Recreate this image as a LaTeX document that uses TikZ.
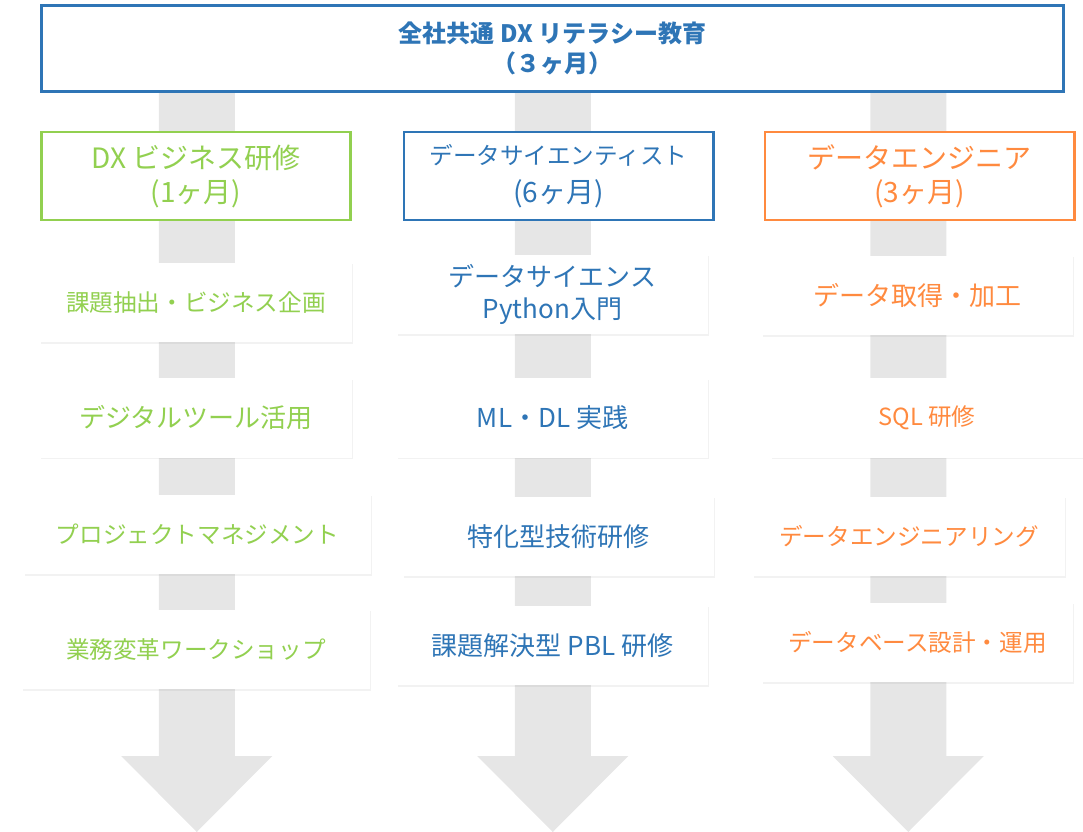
\documentclass[tikz,border=0pt]{standalone}
\usepackage{fontspec}
\setmainfont{Noto Sans CJK JP}
\usetikzlibrary{shadows}
\definecolor{cblue}{HTML}{2E75B6}
\definecolor{cgreen}{HTML}{92D050}
\definecolor{corange}{HTML}{FF8A3F}
\definecolor{cgray}{HTML}{E6E6E6}
\tikzset{
  topbox/.style={draw=cblue, line width=2.2pt, fill=white, align=center, text=cblue,
    font=\fontsize{18pt}{23pt}\selectfont\bfseries, minimum width=767pt, minimum height=65pt, inner sep=0pt},
  headbox/.style={draw=#1, line width=2pt, fill=white, align=center, text=#1,
    minimum width=232pt, minimum height=66pt, inner sep=0pt},
  itembox/.style={fill=white, align=center, text=#1, inner sep=0pt,
    minimum height=59.5pt,
    drop shadow={opacity=0.10, shadow xshift=0.6pt, shadow yshift=-1.2pt}},
  big/.style={font=\fontsize{21pt}{25.5pt}\selectfont},
  mid/.style={font=\fontsize{19.5pt}{24pt}\selectfont},
  small/.style={font=\fontsize{17.7pt}{22pt}\selectfont},
  flow/.style={fill=cgray, draw=none}
}
\begin{document}
\begin{tikzpicture}[x=0.75pt, y=-0.75pt]
\useasboundingbox (0,0) rectangle (1083,832);
% gray flow arrows
\foreach \cx in {196.75, 552.75, 908.25}{
  \fill[cgray] (\cx-38,93) -- (\cx-38,756) -- (\cx-75.5,756) -- (\cx,832)
     -- (\cx+75.5,756) -- (\cx+38,756) -- (\cx+38,93) -- cycle;
}
% top box
\node[topbox] (top) at (552.5,48.5) {全社共通 DX リテラシー教育\\（３ヶ月）};
% column headers
\node[headbox=cgreen, big] (h1) at (196,176) {DX ビジネス研修\\(1ヶ月)};
\node[headbox=cblue, big] (h2) at (558.5,176)
  {{\fontsize{17.7pt}{25.5pt}\selectfont データサイエンティスト}\\[3pt](6ヶ月)};
\node[headbox=corange, big] (h3) at (919.5,176) {データエンジニア\\(3ヶ月)};
% column 1 items
\node[itembox=cgreen, small, minimum width=234pt] (a1) at (196,302.5) {課題抽出・ビジネス企画};
\node[itembox=cgreen, mid, minimum width=234pt] (a2) at (196,418) {デジタルツール活用};
\node[itembox=cgreen, small, minimum width=260.25pt] (a3) at (197.5,534.5) {プロジェクトマネジメント};
\node[itembox=cgreen, small, minimum width=261pt] (a4) at (196,649.5) {業務変革ワークショップ};
% column 2 items
\node[itembox=cblue, mid, minimum width=233.25pt] (b1) at (552.5,294.5) {データサイエンス\\Python入門};
\node[itembox=cblue, mid, minimum width=233.25pt] (b2) at (552.5,418) {ML・DL 実践};
\node[itembox=cblue, mid, minimum width=233.25pt] (b3) at (558.5,536.5) {特化型技術研修};
\node[itembox=cblue, mid, minimum width=233.25pt] (b4) at (552.5,645.5) {課題解決型 PBL 研修};
% column 3 items
\node[itembox=corange, mid, minimum width=233.25pt] (c1) at (917.5,295.5) {データ取得・加工};
\node[itembox=corange, small, minimum width=234pt] (c2) at (927,418) {SQL 研修};
\node[itembox=corange, small, minimum width=234pt] (c3) at (909,536.5) {データエンジニアリング};
\node[itembox=corange, small, minimum width=233.25pt] (c4) at (917.5,642.5) {データベース設計・運用};
\end{tikzpicture}
\end{document}
